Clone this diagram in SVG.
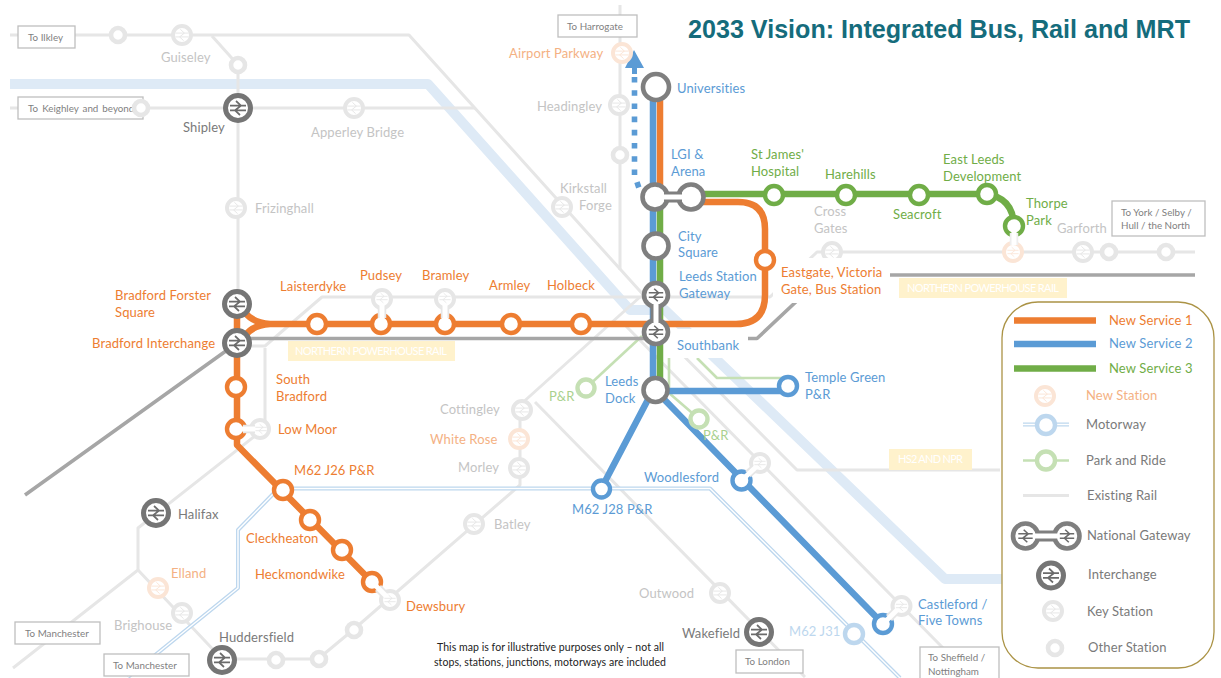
<svg xmlns="http://www.w3.org/2000/svg" width="1221" height="678" viewBox="0 0 1221 678">
<style>
text{font-family:Lato,"Noto Sans","Liberation Sans",sans-serif;font-size:13px;letter-spacing:.12px}
.or{fill:#ed7d31}.bl{fill:#5b9bd5}.gr{fill:#70ad47}.pe{fill:#f4b183}.lg{fill:#a9d18e}.gy{fill:#c4c4c4}.dk{fill:#7a7a7a}.lb{fill:#bdd7ee}
.title{font-family:"Liberation Sans",Arial,sans-serif;font-weight:700;font-size:25px;fill:#156c7c;letter-spacing:0}
.note{font-size:10.5px;fill:#222;letter-spacing:0}
.yl{fill:#fff2cc}.yt{fill:#fff;font-size:11px;letter-spacing:0}
.box{fill:#fff;stroke:#bfbfbf;stroke-width:1.3}
.bt{fill:#7f7f7f;font-size:9.8px;letter-spacing:0}
.ln{fill:none;stroke-linejoin:round}
.river{stroke:#deeaf6;stroke-width:10}
.rail{stroke:#e6e6e6;stroke-width:3}
.mo{stroke:#bdd7ee;stroke-width:4}.mi{stroke:#fff;stroke-width:1.4}
.pr{stroke:#c5e0b4;stroke-width:2.6}
.npr{stroke:#a6a6a6;stroke-width:3.6}
.s1{stroke:#ed7d31;stroke-width:6.5}.s2{stroke:#5b9bd5;stroke-width:6.5}.s3{stroke:#70ad47;stroke-width:6.5}
.key,.oth,.new,.int,.gw,.n1,.n2,.n3,.npr2,.nmo,.npn{fill:#fff}
.key{stroke:#e6e6e6;stroke-width:4}.oth{stroke:#e6e6e6;stroke-width:4.6}
.new{stroke:#fbe5d6;stroke-width:4}
.int{stroke:#757575;stroke-width:5}.gw{stroke:#7f7f7f;stroke-width:4.6}
.n1{stroke:#ed7d31;stroke-width:4.4}.n2{stroke:#5b9bd5;stroke-width:4.4}.n3{stroke:#70ad47;stroke-width:4.4}
.nmo{stroke:#bdd7ee;stroke-width:4.4}.npn{stroke:#c5e0b4;stroke-width:4.4}
.g-key{fill:none;stroke:#e6e6e6;stroke-width:1.2}.g-new{fill:none;stroke:#fbe5d6;stroke-width:1.2}
.g-int{fill:none;stroke:#6b6b6b;stroke-width:1.7}
.lo{fill:none;stroke:#e6e6e6;stroke-width:8.5}.li{fill:none;stroke:#fff;stroke-width:5}
.bar{fill:#7f7f7f}.barw{fill:#fff}
</style>
<defs>
<path id="g" d="M-8,-2.4H8M-8,2.4H8M-2,-7L3,-2.4L-3,2.4L2,7"/>
</defs>
<path class="ln river" d="M10,84H428L630,310H665L945,579H1004"/>
<g id="connectors">
<g class="ln rail">
<path d="M10,35H409L648,300"/>
<path d="M212,36L238,65V305"/>
<path d="M10,108H475"/>
<path d="M620,5V270"/>
<path d="M237,346H265L322,297H770L817,252H1195"/>
<path d="M265,348V428L138,528V570L13,668"/>
<path d="M138,570L222,659H318L353,630L520,485V405L640,297"/>
<path d="M535,402L805,677"/>
<path d="M648,320L797,470H1000"/>
<path d="M622,322L945,650"/>
</g>
<path class="ln mo" id="m62" d="M128,677L238,588V530L275,492L283,488.5H710L900,678"/>
<path class="ln mi" d="M128,677L238,588V530L275,492L283,488.5H710L900,678"/>
<g class="ln pr">
<path d="M586,388L642,336"/>
<path d="M669,350V393L698,418"/>
<path d="M697,358L717,378H788"/>
</g>
<path class="ln npr" d="M25,495L237,343M237,338.5H757L800,298M890,275H1195"/>
</g>
<rect class="yl" x="288" y="341" width="167" height="20"/><text class="yt" x="295" y="355" textLength="152">NORTHERN POWERHOUSE RAIL</text>
<rect class="yl" x="899" y="278" width="168" height="20"/><text class="yt" x="907" y="292" textLength="152">NORTHERN POWERHOUSE RAIL</text>
<rect class="yl" x="889" y="449" width="83" height="21"/><text class="yt" x="898" y="463" textLength="65">HS2 AND NPR</text>
<rect fill="#fff" x="773" y="258" width="117" height="45"/>
<rect fill="#fff" x="667" y="329" width="81" height="29"/>
<g id="services">
<path class="ln s1" d="M660,100V200M700,202H738Q765,202 765,229V295Q765,324 736,324H268M244,311Q252,323 270,324M244,337Q252,325 270,324M237,300V445L372,582"/>
<path class="ln s2" d="M653,100V390L601,489M655,390L883,624M655,391H788"/>
<path class="ln s3" d="M660,200V390M700,194H985Q1013,197 1014,226"/>
<path fill="none" stroke="#5b9bd5" stroke-width="5.6" stroke-dasharray="5.6 7.6" d="M634.5,77V175L640,191"/>
<path fill="#5b9bd5" d="M634,50L625,68H632V74H637V68H644Z"/>
</g>

<g id="box-ilkley"><rect class="box" x="18" y="26" width="57" height="22"/><text class="bt" x="28" y="41">To Ilkley</text></g>
<g id="box-keighley"><rect class="box" x="18" y="97" width="125" height="22"/><text class="bt" x="28" y="112" word-spacing="1.5">To Keighley and beyond</text></g>
<g id="box-harrogate"><rect class="box" x="558" y="15" width="79" height="22"/><text class="bt" x="567" y="30">To Harrogate</text></g>
<g id="box-york"><rect class="box" x="1112" y="201" width="93" height="35"/><text class="bt" x="1121" y="216">To York / Selby /</text><text class="bt" x="1121" y="229">Hull / the North</text></g>
<g id="box-man1"><rect class="box" x="15" y="622" width="85" height="22"/><text class="bt" x="25" y="637">To Manchester</text></g>
<g id="box-man2"><rect class="box" x="104" y="654" width="85" height="22"/><text class="bt" x="113" y="669">To Manchester</text></g>
<g id="box-london"><rect class="box" x="736" y="650" width="67" height="23"/><text class="bt" x="745" y="665">To London</text></g>
<g id="box-sheffield"><rect class="box" x="920" y="647" width="79" height="40"/><text class="bt" x="928" y="661">To Sheffield /</text><text class="bt" x="928" y="675">Nottingham</text></g>

<g id="st-a"><circle class="oth" cx="118" cy="35" r="7"/></g>
<g id="st-guiseley"><circle class="key" cx="182" cy="35" r="9"/><use href="#g" class="g-key" transform="translate(182 35) scale(.8)"/><text class="gy" x="161" y="62">Guiseley</text></g>
<g id="st-b"><circle class="oth" cx="238" cy="65" r="7"/></g>
<g id="st-c"><circle class="oth" cx="141" cy="108" r="7"/></g>
<g id="st-shipley"><circle class="int" cx="238" cy="108" r="12.5"/><use href="#g" class="g-int" transform="translate(238 108)"/><text class="dk" x="183" y="132">Shipley</text></g>
<g id="st-apperley"><circle class="key" cx="354" cy="108" r="9"/><use href="#g" class="g-key" transform="translate(354 108) scale(.8)"/><text class="gy" x="311" y="137">Apperley Bridge</text></g>
<g id="st-frizinghall"><circle class="key" cx="236" cy="208" r="9"/><use href="#g" class="g-key" transform="translate(236 208) scale(.8)"/><text class="gy" x="255" y="213">Frizinghall</text></g>
<g id="st-airport"><circle class="new" cx="622" cy="53" r="9"/><use href="#g" class="g-new" transform="translate(622 53) scale(.8)"/><text class="pe" x="509" y="58">Airport Parkway</text></g>
<g id="st-headingley"><circle class="key" cx="619" cy="105" r="9"/><use href="#g" class="g-key" transform="translate(619 105) scale(.8)"/><text class="gy" x="537" y="111">Headingley</text></g>
<g id="st-d"><circle class="oth" cx="620" cy="155" r="7"/></g>
<g id="st-kirkstall"><circle class="key" cx="562" cy="207" r="9"/><use href="#g" class="g-key" transform="translate(562 207) scale(.8)"/><text class="gy" x="560" y="193">Kirkstall</text><text class="gy" x="579" y="210">Forge</text></g>
<g id="st-crossgates"><circle class="key" cx="832" cy="252" r="9"/><use href="#g" class="g-key" transform="translate(832 252) scale(.8)"/><rect fill="#fff" x="820" y="258" width="24" height="8"/><text class="gy" x="814" y="216">Cross</text><text class="gy" x="814" y="233">Gates</text></g>
<g id="st-garforth"><circle class="key" cx="1083" cy="252" r="9"/><use href="#g" class="g-key" transform="translate(1083 252) scale(.8)"/><text class="gy" x="1057" y="233">Garforth</text></g>
<g id="st-e"><circle class="oth" cx="1109" cy="252" r="7"/></g>
<g id="st-f"><circle class="oth" cx="1166" cy="252" r="7"/></g>
<g id="st-cottingley"><circle class="key" cx="522" cy="410" r="9"/><use href="#g" class="g-key" transform="translate(522 410) scale(.8)"/><text class="gy" x="440" y="414">Cottingley</text></g>
<g id="st-whiterose"><circle class="new" cx="519" cy="439" r="9"/><use href="#g" class="g-new" transform="translate(519 439) scale(.8)"/><text class="pe" x="430" y="444">White Rose</text></g>
<g id="st-morley"><circle class="key" cx="519" cy="468" r="9"/><use href="#g" class="g-key" transform="translate(519 468) scale(.8)"/><text class="gy" x="458" y="472">Morley</text></g>
<g id="st-batley"><circle class="key" cx="474" cy="524" r="9"/><use href="#g" class="g-key" transform="translate(474 524) scale(.8)"/><text class="gy" x="494" y="529">Batley</text></g>
<g id="st-halifax"><circle class="int" cx="156" cy="513" r="12.5"/><use href="#g" class="g-int" transform="translate(156 513)"/><text class="dk" x="178" y="519">Halifax</text></g>
<g id="st-elland"><circle class="new" cx="158" cy="588" r="9"/><use href="#g" class="g-new" transform="translate(158 588) scale(.8)"/><text class="pe" x="171" y="578">Elland</text></g>
<g id="st-brighouse"><circle class="key" cx="182" cy="613" r="9"/><use href="#g" class="g-key" transform="translate(182 613) scale(.8)"/><text class="gy" x="114" y="630">Brighouse</text></g>
<g id="st-huddersfield"><circle class="int" cx="222" cy="660" r="12.5"/><use href="#g" class="g-int" transform="translate(222 660)"/><text class="dk" x="219" y="642">Huddersfield</text></g>
<g id="st-g"><circle class="oth" cx="276" cy="660" r="7"/></g>
<g id="st-h"><circle class="oth" cx="319" cy="659" r="7"/></g>
<g id="st-i"><circle class="oth" cx="354" cy="630" r="7"/></g>
<g id="st-outwood"><circle class="key" cx="720" cy="593" r="9"/><use href="#g" class="g-key" transform="translate(720 593) scale(.8)"/><text class="gy" x="639" y="598">Outwood</text></g>
<g id="st-wakefield"><circle class="int" cx="759" cy="632" r="12.5"/><use href="#g" class="g-int" transform="translate(759 632)"/><text class="dk" x="682" y="638">Wakefield</text></g>
<g id="st-j31"><circle class="nmo" cx="854" cy="634" r="9"/><text class="lb" x="789" y="636">M62 J31</text></g>

<g id="st-bradfordfs"><circle class="int" cx="237" cy="304" r="12.5"/><use href="#g" class="g-int" transform="translate(237 304)"/><text class="or" x="115" y="300">Bradford Forster</text><text class="or" x="115" y="317">Square</text></g>
<g id="st-bradfordint"><circle class="int" cx="237" cy="343" r="12.5"/><use href="#g" class="g-int" transform="translate(237 343)"/><text class="or" x="92" y="348">Bradford Interchange</text></g>
<g id="st-laisterdyke"><circle class="n1" cx="317" cy="324" r="9"/><text class="or" x="280" y="291">Laisterdyke</text></g>
<g id="st-pudsey"><circle class="n1" cx="381" cy="324" r="9"/><circle class="key" cx="382" cy="299" r="9"/><path class="lo" d="M382,306V318"/><path class="li" d="M382,304V324"/><use href="#g" class="g-key" transform="translate(382 298) scale(.7)"/><text class="or" x="360" y="280">Pudsey</text></g>
<g id="st-bramley"><circle class="n1" cx="445" cy="324" r="9"/><circle class="key" cx="445" cy="299" r="9"/><path class="lo" d="M445,306V318"/><path class="li" d="M445,304V324"/><use href="#g" class="g-key" transform="translate(445 298) scale(.7)"/><text class="or" x="422" y="280">Bramley</text></g>
<g id="st-armley"><circle class="n1" cx="511" cy="324" r="9"/><text class="or" x="489" y="290">Armley</text></g>
<g id="st-holbeck"><circle class="n1" cx="581" cy="324" r="9"/><text class="or" x="547" y="290">Holbeck</text></g>
<g id="st-southbradford"><circle class="n1" cx="236" cy="387" r="9"/><text class="or" x="276" y="384">South</text><text class="or" x="276" y="401">Bradford</text></g>
<g id="st-lowmoor"><circle class="n1" cx="236" cy="429" r="9"/><circle class="key" cx="260" cy="429" r="9"/><path class="lo" d="M243,429H255"/><path class="li" d="M236,429H256"/><use href="#g" class="g-key" transform="translate(261 429) scale(.7)"/><text class="or" x="278" y="434">Low Moor</text></g>
<g id="st-j26"><circle class="n1" cx="283" cy="490" r="9"/><text class="or" x="294" y="475">M62 J26 P&amp;R</text></g>
<g id="st-cleckheaton"><circle class="n1" cx="310" cy="520" r="9"/><text class="or" x="246" y="543">Cleckheaton</text></g>
<g id="st-heckmondwike"><circle class="n1" cx="342" cy="550" r="9"/><text class="or" x="255" y="579">Heckmondwike</text></g>
<g id="st-dewsbury"><circle class="n1" cx="372" cy="582" r="9"/><circle class="key" cx="390" cy="600" r="9"/><path class="lo" d="M378,588L385,595"/><path class="li" d="M372,582L386,596"/><use href="#g" class="g-key" transform="translate(390 600) scale(.7)"/><text class="or" x="406" y="611">Dewsbury</text></g>
<g id="st-eastgate"><circle class="n1" cx="765" cy="260" r="9"/><text class="or" x="781" y="277">Eastgate, Victoria</text><text class="or" x="781" y="294">Gate, Bus Station</text></g>

<g id="st-universities"><circle class="gw" cx="656" cy="87" r="13"/><text class="bl" x="677" y="93">Universities</text></g>
<g id="st-lgi"><circle class="gw" cx="655" cy="197" r="12.5"/><circle class="gw" cx="691" cy="197" r="12.5"/><rect class="bar" x="664" y="191.5" width="18" height="11"/><rect class="barw" x="660" y="194.5" width="26" height="5"/><text class="bl" x="671" y="159">LGI &amp;</text><text class="bl" x="671" y="176">Arena</text></g>
<g id="st-citysquare"><circle class="gw" cx="656" cy="246" r="12.5"/><text class="bl" x="678" y="241">City</text><text class="bl" x="678" y="257">Square</text></g>
<g id="st-gateway"><circle class="gw" cx="656" cy="295" r="12"/><circle class="gw" cx="656" cy="332" r="12"/><rect class="bar" x="650.5" y="304" width="11" height="19"/><rect class="barw" x="653.5" y="301" width="5" height="25"/><use href="#g" class="g-int" transform="translate(656 295) scale(.9)"/><use href="#g" class="g-int" transform="translate(656 332) scale(.9)"/><text class="bl" x="679" y="281">Leeds Station</text><text class="bl" x="679" y="298">Gateway</text><text class="bl" x="677" y="350">Southbank</text></g>
<g id="st-leedsdock"><circle class="gw" cx="655.5" cy="390" r="12"/><text class="bl" x="605" y="386">Leeds</text><text class="bl" x="605" y="403">Dock</text></g>
<g id="st-temple"><circle class="n2" cx="788" cy="386" r="9"/><text class="bl" x="805" y="382">Temple Green</text><text class="bl" x="805" y="399">P&amp;R</text></g>
<g id="st-j28"><circle class="n2" cx="601.5" cy="489" r="8.5"/><text class="bl" x="572" y="514">M62 J28 P&amp;R</text></g>
<g id="st-woodlesford"><circle class="n2" cx="741.5" cy="480.5" r="9"/><circle class="key" cx="760" cy="463" r="9"/><path class="lo" d="M748,474L755,468"/><path class="li" d="M741.5,480.5L756,467"/><use href="#g" class="g-key" transform="translate(760 463) scale(.7)"/><text class="bl" x="644" y="482">Woodlesford</text></g>
<g id="st-castleford"><circle class="n2" cx="883" cy="624" r="9"/><circle class="key" cx="901.5" cy="606" r="9"/><path class="lo" d="M889,618L896,611"/><path class="li" d="M883,624L898,609"/><use href="#g" class="g-key" transform="translate(901.5 606) scale(.7)"/><text class="bl" x="918" y="609">Castleford /</text><text class="bl" x="918" y="625">Five Towns</text></g>
<g id="st-pr1"><circle class="npn" cx="586" cy="388" r="8.5"/><text class="lg" x="549" y="401">P&amp;R</text></g>
<g id="st-pr2"><circle class="npn" cx="699" cy="419" r="8.5"/><text class="lg" x="703" y="440">P&amp;R</text></g>

<g id="st-stjames"><circle class="n3" cx="774" cy="195" r="9"/><text class="gr" x="751" y="159">St James'</text><text class="gr" x="751" y="176">Hospital</text></g>
<g id="st-harehills"><circle class="n3" cx="846" cy="195" r="9"/><text class="gr" x="825" y="179">Harehills</text></g>
<g id="st-seacroft"><circle class="n3" cx="919" cy="195" r="9"/><text class="gr" x="893" y="219">Seacroft</text></g>
<g id="st-eastleeds"><circle class="n3" cx="987" cy="194" r="9"/><text class="gr" x="943" y="164">East Leeds</text><text class="gr" x="943" y="181">Development</text></g>
<g id="st-thorpe"><circle class="new" cx="1013" cy="252" r="9"/><use href="#g" class="g-new" transform="translate(1013 252) scale(.7)"/><circle class="n3" cx="1014" cy="226" r="9"/><path stroke="#eee" stroke-width="8.5" fill="none" d="M1014,233V245"/><path class="li" d="M1014,226V245"/><text class="gr" x="1026" y="208">Thorpe</text><text class="gr" x="1026" y="225">Park</text></g>

<text class="title" x="688" y="38" textLength="502" lengthAdjust="spacingAndGlyphs">2033 Vision: Integrated Bus, Rail and MRT</text>
<text class="note" x="437" y="651" textLength="227">This map is for illustrative purposes only – not all</text>
<text class="note" x="434" y="666" textLength="232">stops, stations, junctions, motorways are included</text>

<g id="legend">
<rect x="1002" y="302" width="212" height="366" rx="36" fill="#fff" stroke="#ab9345" stroke-width="1.3"/>
<path class="s1" d="M1014,320.5H1096"/><text class="or" x="1109" y="325">New Service 1</text>
<path class="s2" d="M1014,344H1096"/><text class="bl" x="1109" y="348">New Service 2</text>
<path class="s3" d="M1014,368.5H1096"/><text class="gr" x="1109" y="373">New Service 3</text>
<circle class="new" cx="1045" cy="396" r="9"/><use href="#g" class="g-new" transform="translate(1045 396) scale(.8)"/><text class="pe" x="1086" y="400">New Station</text>
<path class="ln mo" d="M1023,424.5H1069"/><path class="ln mi" d="M1023,424.5H1069"/><circle class="nmo" cx="1046" cy="425" r="9"/><text class="dk" x="1086" y="429">Motorway</text>
<path class="ln pr" d="M1023,460.5H1069"/><circle class="npn" cx="1046" cy="460.5" r="9"/><text class="dk" x="1086" y="465">Park and Ride</text>
<path class="ln rail" d="M1023,495.5H1069"/><text class="dk" x="1087" y="500">Existing Rail</text>
<circle class="gw" cx="1025.5" cy="536" r="12.5"/><circle class="gw" cx="1067" cy="536" r="12.5"/><rect class="bar" x="1036" y="530.5" width="21" height="11"/><rect class="barw" x="1032" y="533.5" width="29" height="5"/><use href="#g" class="g-int" transform="translate(1025.5 536) scale(.9)"/><use href="#g" class="g-int" transform="translate(1067 536) scale(.9)"/><text class="dk" x="1087" y="540">National Gateway</text>
<circle class="int" cx="1051" cy="575.5" r="12.5"/><use href="#g" class="g-int" transform="translate(1051 575.5)"/><text class="dk" x="1088" y="579">Interchange</text>
<circle class="key" cx="1053" cy="611" r="9"/><use href="#g" class="g-key" transform="translate(1053 611) scale(.8)"/><text class="dk" x="1087" y="616">Key Station</text>
<circle class="oth" cx="1055" cy="648" r="7"/><text class="dk" x="1088" y="652">Other Station</text>
</g>
</svg>
